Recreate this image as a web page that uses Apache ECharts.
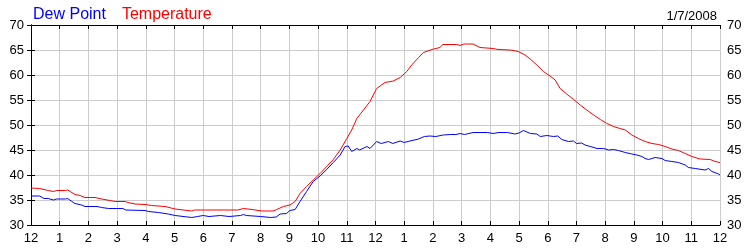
<!DOCTYPE html>
<html>
<head>
<meta charset="utf-8">
<script src="https://cdn.jsdelivr.net/npm/echarts@6/dist/echarts.min.js"></script>
<style>html,body{margin:0;padding:0;background:#fff}#c{width:750px;height:250px}</style>
</head>
<body>
<div id="c"></div>
<script>
const xTickLabels = ['12','1','2','3','4','5','6','7','8','9','10','11','12','1','2','3','4','5','6','7','8','9','10','11','12'];
const yTicks = [30, 35, 40, 45, 50, 55, 60, 65, 70];
const dateLabel = '1/7/2008';

const tempHours = [0,0.3,0.6,0.78,0.9,1.2,1.28,1.53,1.71,1.88,2.23,2.46,2.75,2.93,3.28,3.38,3.62,3.97,4.2,4.67,5.02,5.6,5.7,7.2,7.4,7.7,8.04,8.43,8.56,8.79,9.02,9.2,9.37,9.6,9.83,10.07,10.3,10.53,10.77,11.0,11.17,11.35,11.58,11.81,12.04,12.33,12.62,12.86,13.09,13.26,13.5,13.67,14.02,14.25,14.34,14.83,14.95,15.07,15.4,15.64,16.1,16.27,16.69,16.97,17.21,17.39,17.62,17.85,18.08,18.26,18.43,18.66,18.9,19.13,19.36,19.6,19.83,20.06,20.29,20.52,20.7,20.93,21.16,21.39,21.63,21.86,22.09,22.32,22.55,22.79,23.02,23.31,23.66,23.83,24];
const tempValues = [37.4,37.3,36.9,36.7,36.9,36.9,37.0,36.1,35.9,35.5,35.5,35.2,34.9,34.7,34.7,34.5,34.2,34.1,33.9,33.7,33.2,32.8,33.0,33.0,33.3,33.1,32.8,32.8,33.1,33.7,34.0,34.7,36.3,37.7,39.0,40.3,41.7,43.1,45.0,47.3,49.0,51.3,53.0,54.7,57.3,58.5,58.8,59.5,60.7,62.0,63.5,64.5,65.2,65.5,66.1,66.1,65.9,66.2,66.2,65.5,65.3,65.1,65.0,64.7,64.0,63.2,62.0,60.7,59.8,59.0,57.3,56.2,55.1,54.0,53.0,52.0,51.1,50.3,49.7,49.3,49.0,48.0,47.3,46.7,46.3,46.1,45.7,45.2,44.9,44.3,43.7,43.2,43.1,42.7,42.5];

const dewHours = [0,0.3,0.45,0.6,0.78,0.9,1.2,1.28,1.4,1.53,1.76,1.88,2.3,2.46,2.7,3.2,3.3,3.97,4.1,4.44,4.78,5.02,5.6,5.8,6.0,6.2,6.6,6.9,7.3,7.4,7.5,8.0,8.35,8.54,8.68,8.9,9.02,9.2,9.37,9.6,9.83,10.07,10.3,10.53,10.77,10.94,11.05,11.17,11.35,11.45,11.7,11.81,12.04,12.2,12.45,12.6,12.86,13.0,13.2,13.5,13.7,13.9,14.1,14.36,14.6,14.8,14.95,15.1,15.4,15.9,16.1,16.3,16.6,16.85,17.0,17.15,17.4,17.62,17.74,17.97,18.2,18.35,18.49,18.72,18.9,19.0,19.18,19.3,19.48,19.72,19.95,20.12,20.29,20.46,20.7,20.93,21.1,21.28,21.39,21.51,21.63,21.74,21.98,22.09,22.32,22.55,22.79,22.9,23.14,23.48,23.6,23.72,23.95,24];
const dewValues = [35.8,35.8,35.3,35.3,35.0,35.2,35.2,35.3,34.8,34.3,34.0,33.7,33.7,33.5,33.3,33.3,33.0,32.9,32.7,32.5,32.2,31.9,31.5,31.7,31.9,31.7,31.9,31.7,31.9,32.1,31.9,31.7,31.5,31.6,32.2,32.3,32.9,33.1,34.7,36.7,38.7,39.8,41.1,42.5,44.0,45.7,45.8,44.7,45.3,45.0,45.7,45.3,46.7,46.3,46.7,46.3,46.8,46.5,46.8,47.2,47.7,47.8,47.7,48.0,48.1,48.1,48.3,48.1,48.5,48.5,48.3,48.5,48.5,48.2,48.4,48.9,48.3,48.2,47.7,47.9,47.7,47.8,47.1,46.7,46.8,46.3,46.4,46.0,45.7,45.3,45.3,45.0,45.1,44.9,44.5,44.2,44.0,43.7,43.3,43.1,43.3,43.5,43.3,42.9,42.7,42.5,42.0,41.5,41.3,41.0,41.3,40.7,40.2,40.0];

const FONT = 'Liberation Sans, Arial, sans-serif';
const pair = (hs, vs) => hs.map((h, i) => [h, vs[i]]);

const chart = echarts.init(document.getElementById('c'), null, {renderer: 'canvas'});
const yMin = yTicks[0], yMax = yTicks[yTicks.length - 1], yStep = yTicks[1] - yTicks[0];
const xMax = xTickLabels.length - 1;

const axisCommon = {
  axisLine: {show: true, lineStyle: {color: '#000', width: 1}},
  axisTick: {show: true, inside: true, length: 4, lineStyle: {color: '#000'}},
};

chart.setOption({
  animation: false,
  backgroundColor: '#fff',
  textStyle: {fontFamily: FONT},
  title: {
    text: dateLabel, right: 28, top: 5,
    textStyle: {fontFamily: FONT, fontSize: 13, fontWeight: 'normal', color: '#000'}
  },
  legend: {
    left: 23, top: 2, icon: 'none', itemWidth: 0, itemGap: 11,
    textStyle: {fontFamily: FONT, fontSize: 16},
    data: [
      {name: 'Dew Point', textStyle: {color: '#0000ff'}},
      {name: 'Temperature', textStyle: {color: '#ff0000'}}
    ]
  },
  grid: {left: 31, right: 30, top: 25, bottom: 25, containLabel: false},
  xAxis: [
    Object.assign({
      type: 'value', position: 'bottom', min: 0, max: xMax, interval: 1,
      axisLabel: {
        show: true, margin: 7, fontSize: 13, color: '#000', fontFamily: FONT,
        showMinLabel: true, showMaxLabel: true,
        formatter: v => xTickLabels[Math.round(v)]
      },
      splitLine: {show: true, lineStyle: {color: '#cccccc', width: 1}}
    }, axisCommon),
    Object.assign({
      type: 'value', position: 'top', min: 0, max: xMax, interval: 1,
      axisLabel: {show: false}, splitLine: {show: false}
    }, axisCommon)
  ],
  yAxis: [
    Object.assign({
      type: 'value', position: 'left', min: yMin, max: yMax, interval: yStep,
      axisLabel: {margin: 7, fontSize: 13, color: '#000', fontFamily: FONT},
      splitLine: {show: true, lineStyle: {color: '#cccccc', width: 1}}
    }, axisCommon),
    Object.assign({
      type: 'value', position: 'right', min: yMin, max: yMax, interval: yStep,
      axisLabel: {margin: 7, fontSize: 13, color: '#000', fontFamily: FONT},
      splitLine: {show: false}
    }, axisCommon)
  ],
  series: [
    {
      name: 'Dew Point', type: 'line', xAxisIndex: 0, yAxisIndex: 0,
      data: pair(dewHours, dewValues), showSymbol: false, symbol: 'none',
      lineStyle: {color: '#0000ff', width: 1}, itemStyle: {color: '#0000ff'}, z: 3
    },
    {
      name: 'Temperature', type: 'line', xAxisIndex: 0, yAxisIndex: 0,
      data: pair(tempHours, tempValues), showSymbol: false, symbol: 'none',
      lineStyle: {color: '#ff0000', width: 1}, itemStyle: {color: '#ff0000'}, z: 2
    }
  ]
});
</script>
</body>
</html>
